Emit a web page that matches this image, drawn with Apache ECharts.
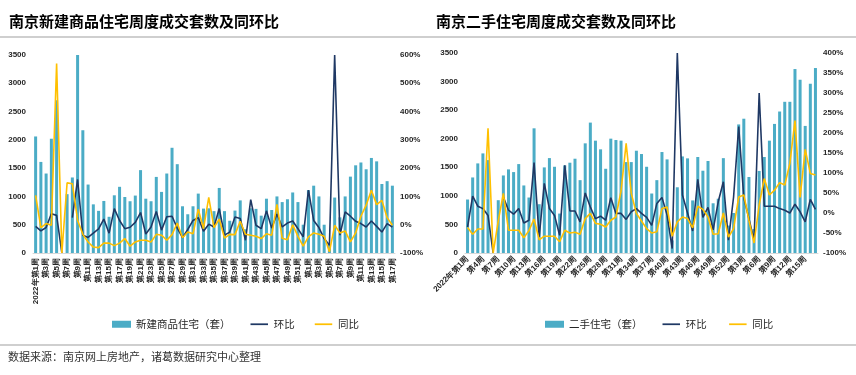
<!DOCTYPE html>
<html>
<head>
<meta charset="utf-8">
<script src="https://cdn.jsdelivr.net/npm/echarts@6/dist/echarts.min.js"></script>
</head>
<body style="margin:0;background:#fff">
<div id="container" style="width:856px;height:375px"></div>
<script>
// 周度类目：2022年第1周 ~ 2023年第17周
var weeks = ['2022年第1周','第2周','第3周','第4周','第5周','第6周','第7周','第8周','第9周','第10周',
  '第11周','第12周','第13周','第14周','第15周','第16周','第17周','第18周','第19周','第20周',
  '第21周','第22周','第23周','第24周','第25周','第26周','第27周','第28周','第29周','第30周',
  '第31周','第32周','第33周','第34周','第35周','第36周','第37周','第38周','第39周','第40周',
  '第41周','第42周','第43周','第44周','第45周','第46周','第47周','第48周','第49周','第50周',
  '第51周','第52周','第1周','第2周','第3周','第4周','第5周','第6周','第7周','第8周',
  '第9周','第10周','第11周','第12周','第13周','第14周','第15周','第16周','第17周'];

// 新建商品住宅（套）
var newUnits = [2060,1610,1405,2020,2700,0,1040,1335,3500,2170,
  1210,860,745,920,640,1020,1170,990,915,1015,
  1465,960,915,1345,1080,1405,1860,1570,826,685,
  826,1050,785,790,740,1150,740,570,750,930,
  420,790,780,660,960,760,1000,900,950,1070,
  900,500,1110,1190,1000,500,140,980,630,1000,
  1350,1550,1600,1480,1680,1620,1220,1270,1190];
// 环比 %
var newMom = [-6,-22,-10,39,33,-100,'-',25,160,-37,
  -45,-30,-15,20,-30,57,15,-14,-9,8,
  43,-33,-8,47,-19,28,30,-12,-46,-17,
  15,25,-23,2,-8,57,-37,-26,27,22,
  -55,89,-2,-14,49,-12,38,-8,6,13,
  -14,-43,122,15,-10,-49,-73,600,-37,45,
  30,12,4,-8,13,-6,-26,4,-8];
// 同比 %
var newYoy = [104,-10,4,-2,570,-100,148,145,16,-34,
  -61,-79,-81,-65,-65,-74,-65,-49,-76,-61,
  -55,-55,-61,-34,-37,-55,-35,6,-46,-26,
  -32,55,-14,97,-10,20,-47,-34,-35,12,
  -34,-37,-41,-49,-32,-37,72,-48,-53,0,
  -41,-76,-43,-29,-34,-41,-96,-2,-29,-22,
  -61,-29,30,69,122,71,86,25,-2];

// 二手住宅（套）
var usedUnits = [936,1322,1568,1743,1626,0,924,1357,1463,1416,
  1556,1182,971,2182,854,1498,1661,1509,690,1533,
  1580,1650,1275,1919,2282,1966,1814,1474,2001,1977,
  1966,1591,1591,1790,1732,1509,1041,1275,1767,1638,
  220,1150,1690,1656,920,1680,1440,1610,870,950,
  1660,480,700,2250,2350,1330,420,1436,1680,1966,
  2259,2476,2646,2646,3219,3032,2224,2962,3237];
var usedMom = [-35,42,17,11,-6,-100,'-',40,7,-3,
  11,-25,-18,126,-60,74,11,-6,-56,119,
  5,5,-22,50,15,-14,-8,-18,38,-1,
  -1,-16,3,11,-1,-11,-31,24,39,-5,
  -89,400,45,0,-45,84,-11,14,-42,28,
  78,-68,40,216,38,-14,-68,300,17,17,
  17,11,7,0,22,3,-22,34,9];
var usedYoy = [-36,-53,-40,-40,212,-100,-20,49,-43,-43,
  -43,-62,-44,-15,-67,-58,-58,-58,-72,-43,
  -50,-48,-53,-14,-1,-26,-28,-35,-18,-10,
  55,174,49,-1,-20,-39,-50,-47,11,15,
  -58,-22,-10,-14,-37,17,9,-10,-53,-52,
  0,-60,-39,40,45,-18,-75,20,86,45,
  57,76,70,124,231,39,159,99,95];

var countTicks = [0, 3500, 500];
var leftPctTicks = [-100, 600, 100];
var rightPctTicks = [-100, 400, 50];

var BAR = '#4bacc6', NAVY = '#1f3864', GOLD = '#ffc000';
var LINE_ICON = 'path://M0,0 M0,3 L20,3 L20,5 L0,5 Z M20,8';
var tickFont = {fontSize: 8, fontWeight: 'bold', color: '#262626', fontFamily: 'Liberation Sans'};

var dom = document.getElementById('container');
var myChart = echarts.init(dom);

function xAxisOf(idx, rot, interval) {
  return {
    type: 'category', gridIndex: idx, data: weeks,
    axisTick: {show: false},
    axisLine: {lineStyle: {color: '#d9d9d9', width: 1}},
    axisLabel: Object.assign({rotate: rot, interval: interval, margin: 5}, tickFont)
  };
}
function countAxis(idx) {
  return {
    type: 'value', gridIndex: idx, position: 'left',
    min: countTicks[0], max: countTicks[1], interval: countTicks[2],
    splitLine: {show: false}, axisLine: {show: false}, axisTick: {show: false},
    axisLabel: Object.assign({margin: 7, formatter: function (v) { return String(v); }}, tickFont)
  };
}
function pctAxis(idx, t) {
  return {
    type: 'value', gridIndex: idx, position: 'right',
    min: t[0], max: t[1], interval: t[2],
    splitLine: {show: false}, axisLine: {show: false}, axisTick: {show: false},
    axisLabel: Object.assign({margin: 5, formatter: function (v) { return v + '%'; }}, tickFont)
  };
}
function lineOf(name, x, y, data, color) {
  return {
    name: name, type: 'line', xAxisIndex: x, yAxisIndex: y, data: data,
    symbol: 'none', connectNulls: false,
    lineStyle: {color: color, width: 1.6}, itemStyle: {color: color}
  };
}
function legendOf(left, barName, suffix) {
  return {
    left: left, top: 314, itemWidth: 19, itemHeight: 7, itemGap: 20,
    textStyle: {fontSize: 10.5, color: '#262626'},
    data: [{name: barName, icon: 'rect'},
      {name: '环比' + suffix, icon: LINE_ICON},
      {name: '同比' + suffix, icon: LINE_ICON}]
  };
}

var option = {
  animation: false,
  textStyle: {fontFamily: 'Noto Sans CJK SC'},
  title: [
    {text: '南京新建商品住宅周度成交套数及同环比', left: 4, top: 9,
      textStyle: {fontSize: 15, fontWeight: 'bold', color: '#000'}},
    {text: '南京二手住宅周度成交套数及同环比', left: 431, top: 9,
      textStyle: {fontSize: 15, fontWeight: 'bold', color: '#000'}}
  ],
  graphic: [
    {type: 'line', shape: {x1: 0, y1: 37, x2: 856, y2: 37}, style: {stroke: '#bfbfbf', lineWidth: 1.5}},
    {type: 'line', shape: {x1: 0, y1: 345, x2: 856, y2: 345}, style: {stroke: '#bfbfbf', lineWidth: 1.5}},
    {type: 'text', left: 8, top: 351, style: {text: '数据来源：南京网上房地产，诸葛数据研究中心整理',
      fontSize: 11, fill: '#333', fontFamily: 'Noto Sans CJK SC'}}
  ],
  legend: [legendOf(107, '新建商品住宅（套）', ''), legendOf(540, '二手住宅（套）', ' ')],
  grid: [
    {left: 33, right: 461, top: 55, bottom: 122},
    {left: 465, right: 38, top: 53, bottom: 122}
  ],
  xAxis: [xAxisOf(0, 90, 1), xAxisOf(1, 45, 2)],
  yAxis: [countAxis(0), pctAxis(0, leftPctTicks), countAxis(1), pctAxis(1, rightPctTicks)],
  series: [
    {name: '新建商品住宅（套）', type: 'bar', xAxisIndex: 0, yAxisIndex: 0, data: newUnits,
      barWidth: 3, itemStyle: {color: BAR}},
    lineOf('环比', 0, 1, newMom, NAVY),
    lineOf('同比', 0, 1, newYoy, GOLD),
    {name: '二手住宅（套）', type: 'bar', xAxisIndex: 1, yAxisIndex: 2, data: usedUnits,
      barWidth: 3, itemStyle: {color: BAR}},
    lineOf('环比 ', 1, 3, usedMom, NAVY),
    lineOf('同比 ', 1, 3, usedYoy, GOLD)
  ]
};
myChart.setOption(option, true);
</script>
</body>
</html>
